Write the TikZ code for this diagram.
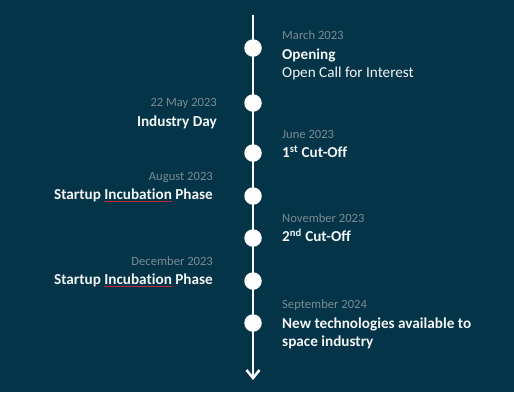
\documentclass[tikz,border=0pt]{standalone}
\usepackage{fontspec}
\setmainfont{Carlito}[Ligatures=NoCommon]
\usetikzlibrary{arrows.meta}
\definecolor{bgteal}{HTML}{033448}
\definecolor{dategray}{HTML}{7C8B93}
\definecolor{txtwhite}{HTML}{F4F6F7}
\definecolor{spellred}{HTML}{C0283A}
\newcommand\spellmark[1]{\setbox0\hbox{#1}\rlap{\color{spellred}\rule[-2.4pt]{\wd0}{0.7pt}}#1}
\tikzset{
  datelbl/.style={inner sep=0pt, text=dategray, font=\fontsize{12.6}{15}\selectfont},
  titlelbl/.style={inner sep=0pt, text=txtwhite, font=\fontsize{15.2}{18}\selectfont\bfseries},
  plainlbl/.style={inner sep=0pt, text=txtwhite, font=\fontsize{15.2}{18}\selectfont},
  dot/.style={circle, fill=white, draw=none, minimum size=17.5pt, inner sep=0pt},
  axis/.style={draw=white, line width=2.5pt}
}
\begin{document}
\begin{tikzpicture}[x=1pt, y=-1pt]
\fill[bgteal] (0,0) rectangle (514,392);
\useasboundingbox (0,0) rectangle (514,392);
% timeline
\coordinate (top) at (253,15);
\coordinate (tip) at (253,380);
\draw[axis, -{Straight Barb[length=8pt, width=13pt, line width=2.5pt]}] (top) -- (tip);
% dots
\node[dot] (d1) at (253,48) {};
\node[dot] (d2) at (253,103) {};
\node[dot] (d3) at (253,153) {};
\node[dot] (d4) at (253,196) {};
\node[dot] (d5) at (253,238) {};
\node[dot] (d6) at (253,281) {};
\node[dot] (d7) at (253,323) {};
% right side
\node[datelbl, anchor=base west] (t1a) at (282,39.5) {March 2023};
\node[titlelbl, anchor=base west] (t1b) at (282,59.5) {Opening};
\node[plainlbl, anchor=base west] (t1c) at (282,77.5) {Open Call for Interest};
\node[datelbl, anchor=base west] (t3a) at (282,138.5) {June 2023};
\node[titlelbl, anchor=base west] (t3b) at (282,157.5) {1\textsuperscript{st} Cut-Off};
\node[datelbl, anchor=base west] (t5a) at (282,222) {November 2023};
\node[titlelbl, anchor=base west] (t5b) at (282,241.5) {2\textsuperscript{nd} Cut-Off};
\node[datelbl, anchor=base west] (t7a) at (282,308) {September 2024};
\node[titlelbl, anchor=base west] (t7b) at (282,328) {New technologies available to};
\node[titlelbl, anchor=base west] (t7c) at (282,346.3) {space industry};
% left side
\node[datelbl, anchor=base east] (t2a) at (217,106.5) {22 May 2023};
\node[titlelbl, anchor=base east] (t2b) at (217,126.3) {Industry Day};
\node[datelbl, anchor=base east] (t4a) at (213,180) {August 2023};
\node[titlelbl, anchor=base east] (t4b) at (213,199.3) {Startup \spellmark{Incubation} Phase};
\node[datelbl, anchor=base east] (t6a) at (213,265.3) {December 2023};
\node[titlelbl, anchor=base east] (t6b) at (213,284.5) {Startup \spellmark{Incubation} Phase};
\end{tikzpicture}
\end{document}
